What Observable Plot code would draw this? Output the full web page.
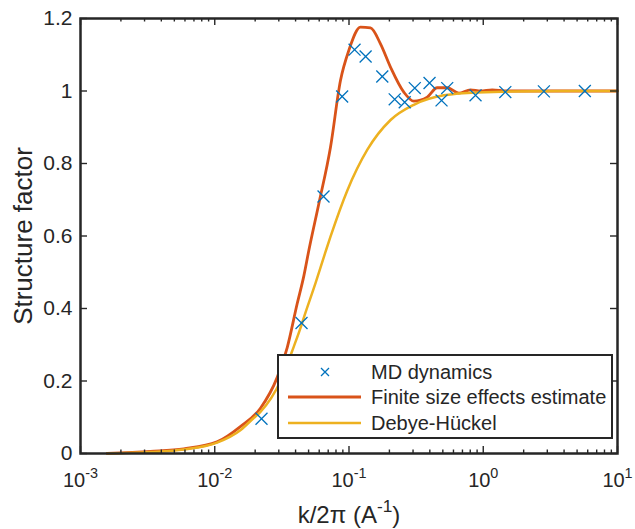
<!DOCTYPE html>
<html>
<head>
<meta charset="utf-8">
<script src="https://cdn.jsdelivr.net/npm/d3@7"></script>
<script src="https://cdn.jsdelivr.net/npm/@observablehq/plot@0.6"></script>
<style>
  html, body { margin: 0; padding: 0; background: #fff; }
  #wrap { position: relative; width: 635px; height: 529px; font-family: "Liberation Sans", Arial, sans-serif; }
  #legend { position: absolute; left: 277px; top: 354px; width: 336px; height: 85px; box-sizing: border-box;
            border: 2.5px solid #262626; background: #fff; }
  .lrow { position: absolute; left: 0; height: 26px; display: flex; align-items: center; }
  .lrow svg { display: block; }
  .lrow span { font-size: 20px; color: #262626; margin-left: 8px; white-space: nowrap; }
</style>
</head>
<body>
<div id="wrap"></div>
<script>
// ---- data ----
// MD dynamics (crosses)
const mdK = [0.0223, 0.0443, 0.0646, 0.0889, 0.110, 0.133, 0.177, 0.219, 0.260, 0.309, 0.398, 0.489, 0.539, 0.876, 1.46, 2.83, 5.71];
const mdS = [0.096, 0.360, 0.709, 0.985, 1.114, 1.095, 1.040, 0.977, 0.969, 1.008, 1.022, 0.974, 1.008, 0.988, 0.997, 0.999, 1.000];
// Finite size effects estimate (red line)
const fsK = [0.00158, 0.00332, 0.00588, 0.0104, 0.0156, 0.0219, 0.0292, 0.0347, 0.0411, 0.0461, 0.0502, 0.0596, 0.0728, 0.0864, 0.0997, 0.1218, 0.1446, 0.1716, 0.2037, 0.256, 0.304, 0.3825, 0.454, 0.539, 0.658, 0.803, 0.954, 1.166, 1.5, 3.0, 10.0];
const fsS = [0.000, 0.006, 0.013, 0.032, 0.075, 0.125, 0.210, 0.293, 0.413, 0.490, 0.560, 0.689, 0.845, 1.029, 1.112, 1.176, 1.174, 1.130, 1.066, 0.997, 0.972, 0.983, 1.009, 1.009, 0.994, 1.003, 1.000, 1.003, 1.000, 1.000, 1.000];
// Debye-Hückel (yellow line)
const dhK = [0.00158, 0.00332, 0.00588, 0.0104, 0.0156, 0.0195, 0.0219, 0.0309, 0.0388, 0.0443, 0.0461, 0.0563, 0.0668, 0.0728, 0.097, 0.137, 0.204, 0.304, 0.508, 0.902, 3.76, 10.0];
const dhS = [0.000, 0.004, 0.011, 0.030, 0.065, 0.098, 0.115, 0.200, 0.295, 0.355, 0.375, 0.470, 0.556, 0.598, 0.725, 0.838, 0.920, 0.962, 0.988, 0.996, 1.000, 1.000];

const seriesNames = ["MD dynamics", "Finite size effects estimate", "Debye-Hückel"];
const xTicks = [0.001, 0.01, 0.1, 1, 10];
const xTickLabels = ["10^{-3}", "10^{-2}", "10^{-1}", "10^{0}", "10^{1}"];
const yTicks = [0, 0.2, 0.4, 0.6, 0.8, 1, 1.2];
const yTickLabels = ["0", "0.2", "0.4", "0.6", "0.8", "1", "1.2"];
const xLabel = "k/2π (A^{-1})";
const yLabel = "Structure factor";

// ---- styling ----
const BLUE = "#0072BD", RED = "#D95319", YELLOW = "#EDB120", AX = "#262626";
const W = 635, H = 529, mL = 80, mT = 18, mR = 18, mB = 76;
const plotW = W - mL - mR, plotH = H - mT - mB;

const md = mdK.map((k, i) => ({k, S: mdS[i]}));
const fs = fsK.map((k, i) => ({k, S: fsS[i]}));
const dh = dhK.map((k, i) => ({k, S: dhS[i]}));
// minor ticks of the log axis (2..9 in each decade)
const xMinor = [];
for (let d = 0; d < xTicks.length - 1; d++) for (let m = 2; m <= 9; m++) xMinor.push(xTicks[d] * m);

const chart = Plot.plot({
  width: W, height: H,
  marginLeft: mL, marginTop: mT, marginRight: mR, marginBottom: mB,
  style: {fontFamily: "'Liberation Sans', Arial, sans-serif", fontSize: "21px", color: AX, background: "white"},
  x: {type: "log", domain: [1e-3, 10]},
  y: {domain: [0, 1.2]},
  marks: [
    Plot.line(fs, {x: "k", y: "S", stroke: RED, strokeWidth: 2.8, curve: "monotone-x"}),
    Plot.line(dh, {x: "k", y: "S", stroke: YELLOW, strokeWidth: 2.5, curve: "monotone-x"}),
    Plot.dot(md, {x: "k", y: "S", symbol: "times", r: 5.5, stroke: BLUE, strokeWidth: 1.3}),
    // inward ticks on all four sides
    Plot.tickX(xTicks, {x: d => d, insetTop: plotH - 7, stroke: AX, strokeWidth: 1.4}),
    Plot.tickX(xTicks, {x: d => d, insetBottom: plotH - 7, stroke: AX, strokeWidth: 1.4}),
    Plot.tickX(xMinor, {x: d => d, insetTop: plotH - 3.5, stroke: AX, strokeWidth: 1.4}),
    Plot.tickX(xMinor, {x: d => d, insetBottom: plotH - 3.5, stroke: AX, strokeWidth: 1.4}),
    Plot.tickY(yTicks, {y: d => d, insetRight: plotW - 7, stroke: AX, strokeWidth: 1.4}),
    Plot.tickY(yTicks, {y: d => d, insetLeft: plotW - 7, stroke: AX, strokeWidth: 1.4}),
    Plot.axisX({ticks: xTicks, tickSize: 0, tickPadding: 19, label: null, fontSize: 20,
                tickFormat: d => xTickLabels[xTicks.indexOf(d)]}),
    Plot.axisY({ticks: yTicks, tickSize: 0, tickPadding: 8, label: null, fontSize: 21,
                tickFormat: d => yTickLabels[yTicks.indexOf(d)]}),
    Plot.frame({stroke: AX, strokeWidth: 2.5}),
    Plot.text([xLabel], {frameAnchor: "bottom", dy: 69, fontSize: 24, fill: AX, textAnchor: "middle"}),
    Plot.text([yLabel], {frameAnchor: "left", dx: -57, rotate: -90, fontSize: 26, fill: AX, textAnchor: "middle"})
  ]
});

const wrap = document.getElementById("wrap");
wrap.appendChild(chart);

// render "^{...}" as superscripts
const svgNS = "http://www.w3.org/2000/svg";
chart.querySelectorAll("text").forEach(el => {
  const s = el.textContent;
  if (!s.includes("^{")) return;
  const fsz = parseFloat(getComputedStyle(el).fontSize) || 20;
  el.textContent = "";
  const parts = s.split(/\^\{([^}]*)\}/);
  let shifted = false;
  parts.forEach((p, i) => {
    if (p === "") return;
    const t = document.createElementNS(svgNS, "tspan");
    t.textContent = p;
    if (i % 2 === 1) {
      t.setAttribute("dy", (-0.45 * fsz).toFixed(1));
      t.setAttribute("font-size", (0.72 * fsz).toFixed(1));
      shifted = true;
    } else if (shifted) {
      t.setAttribute("dy", (0.45 * fsz).toFixed(1));
      shifted = false;
    }
    el.appendChild(t);
  });
});

// legend (inside the axes, lower right)
const legend = document.createElement("div");
legend.id = "legend";
const rowTops = [3, 28, 54];
const swatches = [
  `<svg width="84" height="26"><path d="M42,9 L50,17 M50,9 L42,17" stroke="${BLUE}" stroke-width="1.3" fill="none"/></svg>`,
  `<svg width="84" height="26"><line x1="9" y1="13" x2="82" y2="13" stroke="${RED}" stroke-width="2.8"/></svg>`,
  `<svg width="84" height="26"><line x1="9" y1="13" x2="82" y2="13" stroke="${YELLOW}" stroke-width="2.5"/></svg>`
];
seriesNames.forEach((name, i) => {
  const row = document.createElement("div");
  row.className = "lrow";
  row.style.top = rowTops[i] + "px";
  row.innerHTML = swatches[i] + `<span>${name}</span>`;
  legend.appendChild(row);
});
wrap.appendChild(legend);
</script>
</body>
</html>
